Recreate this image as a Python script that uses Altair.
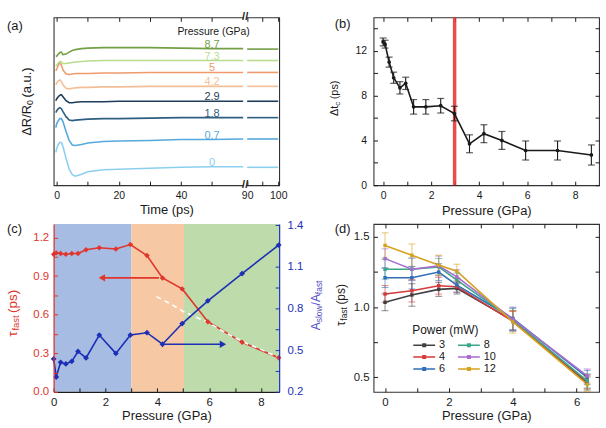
import altair as alt
import pandas as pd

FONT = "Liberation Sans"
INK = "#1a1a1a"
NB = "\u00a0"

# ---------------- panel (a): transient reflectivity traces ----------------
a_time = [-0.3, 0, 0.5, 1, 1.5, 2, 3, 4, 5, 6, 8, 10, 15, 20, 30, 40, 50, 60, 90, 100]
a_pressures = ["0", "0.7", "1.8", "2.9", "4.2", "5", "7.3", "8.7"]
a_colors = ["#8ccfee", "#56a9dc", "#2f5f80", "#1f3d5a", "#f3bf98", "#ee9a6c", "#b9dc8e", "#74a045"]
a_signal = {
    "8.7": [1.295, 1.30, 1.32, 1.335, 1.34, 1.315, 1.32, 1.34, 1.355, 1.365, 1.375, 1.38, 1.385, 1.385, 1.385, 1.38, 1.375, 1.375, 1.37, 1.37],
    "7.3": [1.20, 1.21, 1.23, 1.245, 1.24, 1.225, 1.225, 1.23, 1.235, 1.24, 1.245, 1.25, 1.255, 1.255, 1.255, 1.255, 1.255, 1.255, 1.255, 1.255],
    "5": [1.15, 1.17, 1.21, 1.235, 1.21, 1.16, 1.12, 1.115, 1.12, 1.125, 1.125, 1.125, 1.13, 1.13, 1.135, 1.135, 1.135, 1.135, 1.135, 1.135],
    "4.2": [1.01, 1.03, 1.05, 1.06, 1.045, 1.01, 0.975, 0.97, 0.975, 0.98, 0.985, 0.985, 0.99, 0.99, 0.995, 0.995, 0.995, 0.995, 0.995, 0.995],
    "2.9": [0.85, 0.87, 0.89, 0.905, 0.91, 0.89, 0.85, 0.83, 0.83, 0.835, 0.84, 0.84, 0.84, 0.845, 0.845, 0.845, 0.845, 0.845, 0.845, 0.845],
    "1.8": [0.73, 0.75, 0.77, 0.78, 0.77, 0.74, 0.69, 0.655, 0.65, 0.655, 0.66, 0.665, 0.67, 0.67, 0.675, 0.68, 0.68, 0.68, 0.68, 0.68],
    "0.7": [0.58, 0.62, 0.65, 0.67, 0.67, 0.64, 0.54, 0.45, 0.405, 0.40, 0.41, 0.425, 0.44, 0.445, 0.45, 0.46, 0.46, 0.465, 0.465, 0.465],
    "0": [0.33, 0.37, 0.41, 0.43, 0.43, 0.39, 0.27, 0.16, 0.105, 0.09, 0.11, 0.135, 0.155, 0.16, 0.17, 0.18, 0.185, 0.185, 0.18, 0.18],
}
a_break_from = 60      # last time before the axis break (ps)
a_break_to = 90        # first time after the axis break (ps)
a_break_gap = 28.7     # ps removed from the axis by the break
a_label_time = 50
a_tick_times = [0, 10, 20, 30, 40, 50, 90, 95, 100]
a_tick_labels = ["0", "", "20", "", "40", "", "90", "", "100"]

# ---------------- panel (b): delta t_c ----------------
b_pressure = [0.0, 0.08, 0.25, 0.44, 0.7, 0.94, 1.27, 1.78, 2.4, 2.97, 3.6, 4.2, 4.95, 5.94, 7.27, 8.68]
b_dtc = [12.8, 12.6, 11.0, 9.6, 8.7, 9.1, 7.0, 7.0, 7.1, 6.4, 3.7, 4.6, 4.0, 3.1, 3.1, 2.7]
b_err = [0.35, 0.35, 0.45, 0.5, 0.55, 0.55, 0.65, 0.65, 0.65, 0.65, 0.8, 0.8, 0.8, 0.85, 0.85, 0.9]
b_transition = [2.98]

# ---------------- panel (c): tau_fast and amplitude ratio ----------------
c_pressure = [0.0, 0.1, 0.27, 0.47, 0.7, 0.94, 1.25, 1.76, 2.4, 2.96, 3.6, 4.2, 4.96, 5.95, 7.27, 8.68]
c_tau = [1.07, 1.08, 1.075, 1.07, 1.075, 1.075, 1.105, 1.12, 1.11, 1.145, 1.06, 0.885, 0.80, 0.545, 0.385, 0.265]
c_ratio = [0.437, 0.307, 0.413, 0.401, 0.42, 0.491, 0.444, 0.609, 0.477, 0.609, 0.626, 0.543, 0.692, 0.856, 1.052, 1.258]
c_fit_p = [3.97, 4.5, 5.0, 5.5, 6.0, 6.5, 7.0, 7.5, 8.0, 8.68]
c_fit_v = [0.74, 0.685, 0.625, 0.58, 0.535, 0.475, 0.42, 0.37, 0.33, 0.265]
c_phase_start = [0.0, 3.0, 5.03]
c_phase_end = [3.0, 5.03, 8.7]
c_phase_color = ["#a7bce3", "#f6c8a3", "#bedcab"]
c_arrow_red = {"x_from": [4.06], "x_to": [1.86], "level": [0.886]}
c_arrow_blue = {"x_from": [4.29], "x_to": [6.53], "level": [0.543]}

# ---------------- panel (d): tau_fast vs power ----------------
d_pressure = [0, 0.84, 1.68, 2.25, 4.0, 6.33]
d_powers = ["3", "4", "6", "8", "10", "12"]
d_colors = ["#404040", "#d63a3a", "#2f6fba", "#3aa688", "#a86cd0", "#d6a21e"]
d_tau = {
    "3": [1.035, 1.087, 1.127, 1.134, 0.905, 0.46],
    "4": [1.094, 1.117, 1.153, 1.146, 0.90, 0.47],
    "6": [1.21, 1.21, 1.25, 1.157, 0.92, 0.50],
    "8": [1.27, 1.27, 1.287, 1.193, 0.91, 0.475],
    "10": [1.346, 1.27, 1.294, 1.216, 0.915, 0.51],
    "12": [1.44, 1.37, 1.30, 1.256, 0.895, 0.45],
}
d_err = {
    "3": [0.06, 0.08, 0.05, 0.04, 0.07, 0.05],
    "4": [0.06, 0.08, 0.06, 0.04, 0.07, 0.05],
    "6": [0.07, 0.08, 0.06, 0.05, 0.08, 0.05],
    "8": [0.07, 0.08, 0.06, 0.05, 0.08, 0.05],
    "10": [0.07, 0.08, 0.07, 0.05, 0.08, 0.05],
    "12": [0.09, 0.08, 0.07, 0.05, 0.08, 0.05],
}

W, H = 227, 169
RED = "#e0352c"
BLUE = "#1c2fb5"
VIOLET = "#4f4fc6"
TITLE_SIZE = 13

CHAR_W = {" ": 0.278, NB: 0.278, "(": 0.333, ")": 0.333, "/": 0.278, ".": 0.278, "a": 0.556,
          "c": 0.5, "f": 0.278, "l": 0.222, "o": 0.556, "p": 0.556, "s": 0.5, "t": 0.278,
          "u": 0.556, "w": 0.722, "A": 0.667, "R": 0.722, "Δ": 0.668, "τ": 0.45, "0": 0.556}


def text_width(s, size):
    return sum(CHAR_W.get(ch, 0.556) for ch in s) * size


def label_expr(values, labels):
    expr = "''"
    for v, lab in reversed(list(zip(values, labels))):
        expr = f"abs(datum.value - ({v})) < 1e-6 ? '{lab}' : ({expr})"
    return expr


def axis(values, labels, size, pad, title=None, orient=None, color=INK, tpad=2,
         domain=False, zindex=0):
    kw = dict(values=values, labelExpr=label_expr(values, labels), tickSize={"expr": "-4"},
              tickWidth=1, tickColor=color, labelColor=color, labelFontSize=size,
              labelFont=FONT, labelPadding=pad, labelFlush=False, labelOverlap=False,
              grid=False, domain=domain, domainColor=color, domainWidth=1.2, zindex=zindex)
    if title:
        kw.update(title=title, titleFontSize=TITLE_SIZE, titleFontWeight=400, titleFont=FONT,
                  titleColor=INK, titlePadding=tpad)
    else:
        kw.update(title=None)
    if orient:
        kw["orient"] = orient
    return alt.Axis(**kw)


def mirror_axis(values, orient):
    return alt.Axis(orient=orient, values=values, labels=False, tickSize={"expr": "-4"},
                    tickColor=INK, tickWidth=1, domain=False, grid=False, title=None)


def mirror(xscale, xvals, yscale=None, yvals=None):
    df = pd.DataFrame({"mx": [xvals[0]], "my": [yvals[0] if yvals else 0]})
    enc = dict(x=alt.X("mx:Q", scale=xscale, axis=mirror_axis(xvals, "top")))
    if yscale is not None:
        enc["y"] = alt.Y("my:Q", scale=yscale, axis=mirror_axis(yvals, "right"))
    return alt.Chart(df).mark_point(opacity=0).encode(**enc)


def seg_title(parts, x, yc, color, gap=2.5):
    """vertical (rotated) title made of normal / subscript pieces"""
    total = sum(text_width(t, s) for t, s, _ in parts) + gap
    off = -total / 2
    layers = []
    for t, s, dy in parts:
        if t.startswith(NB):
            off += gap
        layers.append(
            alt.Chart(pd.DataFrame({"lab": [t]})).mark_text(
                angle=270, align="left", baseline="middle", fontSize=s, dx=off, dy=dy,
                color=color, font=FONT).encode(text="lab:N", x=alt.value(x), y=alt.value(yc)))
        off += text_width(t, s)
    return layers


def panel_tag(tag, x, y):
    return alt.Chart(pd.DataFrame({"lab": [tag]})).mark_text(
        align="left", baseline="middle", fontSize=13, color=INK, font=FONT).encode(
        text="lab:N", x=alt.value(x), y=alt.value(y))


# ======================= (a) =======================
rows = []
for p in a_pressures:
    for t, v in zip(a_time, a_signal[p]):
        rows.append({"pressure": p, "time": t, "signal": v,
                     "segment": "early" if t <= a_break_from else "late"})
a_df = pd.DataFrame(rows)
shift_expr = f"datum.time <= {a_break_from} ? datum.time : datum.time - {a_break_gap}"
a_tick_pos = [t if t <= a_break_from else t - a_break_gap for t in a_tick_times]
ax_a = axis(a_tick_pos, a_tick_labels, 10.5, 9.5, title="Time (ps)", tpad=2)
xa_scale = alt.Scale(domain=[-1, 71.6], nice=False, zero=False)
ya_scale = alt.Scale(domain=[0, 1.69], nice=False, zero=False)
a_color = alt.Color("pressure:N", scale=alt.Scale(domain=a_pressures, range=a_colors), legend=None)

a_lines = alt.Chart(a_df).transform_calculate(tp=shift_expr).mark_line(strokeWidth=1.6).encode(
    x=alt.X("tp:Q", scale=xa_scale, axis=ax_a),
    y=alt.Y("signal:Q", scale=ya_scale, axis=None),
    color=a_color, detail="segment:N", order="time:Q")
a_labels = alt.Chart(a_df).transform_filter(f"datum.time == {a_label_time}").transform_calculate(
    tp=shift_expr).mark_text(fontSize=11, baseline="alphabetic", dy=-1, font=FONT).encode(
    x=alt.X("tp:Q", scale=xa_scale, axis=ax_a),
    y=alt.Y("signal:Q", scale=ya_scale, axis=None),
    text="pressure:N", color=a_color)
brk = pd.DataFrame({"b": [(a_break_from + a_break_to - a_break_gap) / 2]})
brk_text_layers = []
for yy in [0, H]:
    brk_text_layers.append(alt.Chart(brk).transform_calculate(b0="datum.b - 0.5", b1="datum.b + 0.5").mark_rect(
        color="white").encode(x=alt.X("b0:Q", scale=xa_scale, axis=ax_a), x2="b1:Q",
                              y=alt.value(yy - 3), y2=alt.value(yy + 3)))
    brk_text_layers.append(alt.Chart(brk).mark_text(text="//", fontSize=11, fontWeight="bold",
                                                    baseline="middle", color=INK, font=FONT).encode(
        x=alt.X("b:Q", scale=xa_scale, axis=ax_a), y=alt.value(yy)))
a_head = alt.Chart(pd.DataFrame({"lab": ["Pressure (GPa)"]})).mark_text(
    fontSize=10.5, color=INK, font=FONT, baseline="middle").encode(
    text="lab:N", x=alt.value(161), y=alt.value(15))
a_main = alt.layer(a_lines, a_labels, *brk_text_layers, a_head, panel_tag("(a)", -47, 9),
                   *seg_title([("ΔR/R", 13, 0), ("0", 9, 3.5), (NB + "(a.u.)", 13, 0)], -27, 83, INK))
panel_a = alt.layer(a_main, mirror(xa_scale, a_tick_pos)).resolve_axis(
    x="independent").properties(width=W, height=H)

# ======================= (b) =======================
b_df = pd.DataFrame({"p": b_pressure, "dtc": b_dtc, "err": b_err})
bx_vals = list(range(0, 9))
by_vals = list(range(0, 15, 2))
ax_bx = axis(bx_vals, ["0", "", "2", "", "4", "", "6", "", "8"], 10.5, 9.5,
             title="Pressure (GPa)", tpad=3)
ax_by = axis(by_vals, ["0", "", "4", "", "8", "", "12", ""], 10.5, 11)
xb_scale = alt.Scale(domain=[-0.4, 9.0], nice=False, zero=False)
yb_scale = alt.Scale(domain=[0, 15], nice=False)
bx = alt.X("p:Q", scale=xb_scale, axis=ax_bx)
b_base = alt.Chart(b_df).transform_calculate(lo="datum.dtc - datum.err", hi="datum.dtc + datum.err")
b_rule = alt.Chart(pd.DataFrame({"p": b_transition})).mark_rule(
    color="#e8383a", strokeWidth=3.5, opacity=0.9).encode(x=bx)
b_bars = b_base.mark_rule(color=INK, strokeWidth=1.1).encode(
    x=bx, y=alt.Y("lo:Q", scale=yb_scale, axis=ax_by), y2="hi:Q")
b_cap_lo = b_base.mark_tick(orient="horizontal", size=7, thickness=1.2, color=INK).encode(
    x=bx, y=alt.Y("lo:Q", scale=yb_scale, axis=ax_by))
b_cap_hi = b_base.mark_tick(orient="horizontal", size=7, thickness=1.2, color=INK).encode(
    x=bx, y=alt.Y("hi:Q", scale=yb_scale, axis=ax_by))
b_line = alt.Chart(b_df).mark_line(color=INK, strokeWidth=1.6).encode(
    x=bx, y=alt.Y("dtc:Q", scale=yb_scale, axis=ax_by))
b_pts = alt.Chart(b_df).mark_point(filled=True, color=INK, size=14, opacity=1).encode(
    x=bx, y=alt.Y("dtc:Q", scale=yb_scale, axis=ax_by))
b_main = alt.layer(b_rule, b_bars, b_cap_lo, b_cap_hi, b_line, b_pts, panel_tag("(b)", -39, 7),
                   *seg_title([("Δt", 11, 0), ("c", 8, 3), (NB + "(ps)", 11, 0)], -39, 80, INK))
panel_b = alt.layer(b_main, mirror(xb_scale, bx_vals, yb_scale, by_vals)).resolve_axis(
    x="independent", y="independent").properties(width=W, height=H)

# ======================= (c) =======================
c_df = pd.DataFrame({"p": c_pressure, "tau": c_tau, "ratio": c_ratio})
c_fit_df = pd.DataFrame({"p": c_fit_p, "v": c_fit_v})
c_phase_df = pd.DataFrame({"start": c_phase_start, "end": c_phase_end, "col": c_phase_color})
xc_scale = alt.Scale(domain=[0, 8.7], nice=False, zero=False)
ycl_scale = alt.Scale(domain=[0, 1.305], nice=False, zero=False)
ycr_scale = alt.Scale(domain=[0.2, 1.41], nice=False, zero=False)
ax_cx = axis(list(range(0, 9)), ["0", "", "2", "", "4", "", "6", "", "8"], 11.5, 9,
             title="Pressure (GPa)", tpad=1.5, domain=True, zindex=1)
cl_vals = [0, 0.15, 0.3, 0.45, 0.6, 0.75, 0.9, 1.05, 1.2]
ax_cl = axis(cl_vals, ["0.0", "", "0.3", "", "0.6", "", "0.9", "", "1.2"], 11.5, 9,
             color=RED, domain=True, zindex=1)
cr_vals = [0.2, 0.35, 0.5, 0.65, 0.8, 0.95, 1.1, 1.25, 1.4]
ax_cr = axis(cr_vals, ["0.2", "", "0.5", "", "0.8", "", "1.1", "", "1.4"], 11.5, 12,
             orient="right", color=BLUE, domain=True, zindex=1)
cx = lambda f: alt.X(f, scale=xc_scale, axis=ax_cx)
cyl = lambda f: alt.Y(f, scale=ycl_scale, axis=ax_cl)
cyr = lambda f: alt.Y(f, scale=ycr_scale, axis=ax_cr)

c_bg = alt.Chart(c_phase_df).mark_rect().encode(
    x=cx("start:Q"), x2="end:Q", color=alt.Color("col:N", scale=None, legend=None))
c_red_line = alt.Chart(c_df).mark_line(color=RED, strokeWidth=1.6).encode(x=cx("p:Q"), y=cyl("tau:Q"))
c_fit = alt.Chart(c_fit_df).mark_line(color="white", strokeWidth=1.6, strokeDash=[5, 4]).encode(
    x=cx("p:Q"), y=cyl("v:Q"))
c_red_pts = alt.Chart(c_df).mark_point(shape="diamond", filled=True, color=RED, size=30, opacity=1).encode(
    x=cx("p:Q"), y=cyl("tau:Q"))
ar = pd.DataFrame(c_arrow_red)
c_ar_line = alt.Chart(ar).mark_rule(color=RED, strokeWidth=1.6).encode(
    x=cx("x_from:Q"), x2="x_to:Q", y=cyl("level:Q"))
c_ar_head = alt.Chart(ar).mark_point(shape="triangle-left", filled=True, color=RED, size=55, opacity=1).encode(
    x=cx("x_to:Q"), y=cyl("level:Q"))
c_left = alt.layer(c_bg, c_red_line, c_fit, c_red_pts, c_ar_line, c_ar_head)

c_blue_line = alt.Chart(c_df).mark_line(color=BLUE, strokeWidth=1.6).encode(x=cx("p:Q"), y=cyr("ratio:Q"))
c_blue_pts = alt.Chart(c_df).mark_point(shape="diamond", filled=True, color=BLUE, size=34, opacity=1).encode(
    x=cx("p:Q"), y=cyr("ratio:Q"))
ab = pd.DataFrame(c_arrow_blue)
c_ab_line = alt.Chart(ab).mark_rule(color=BLUE, strokeWidth=1.6).encode(
    x=cx("x_from:Q"), x2="x_to:Q", y=cyr("level:Q"))
c_ab_head = alt.Chart(ab).mark_point(shape="triangle-right", filled=True, color=BLUE, size=55, opacity=1).encode(
    x=cx("x_to:Q"), y=cyr("level:Q"))
c_right = alt.layer(c_blue_line, c_blue_pts, c_ab_line, c_ab_head)

panel_c = alt.layer(
    c_left, c_right, panel_tag("(c)", -47, 5),
    *seg_title([("τ", 13.5, 0), ("fast", 9.5, 3.5), (NB + "(ps)", 13.5, 0)], -41, 88, RED),
    *seg_title([("A", 12, 0), ("slow", 8.5, 3), ("/A", 12, 0), ("fast", 8.5, 3)], W + 37, 82, VIOLET, gap=0),
).resolve_scale(y="independent").properties(
    width=W, height=H, view=alt.ViewBackground(stroke="transparent"))

# ======================= (d) =======================
rows = []
for pw in d_powers:
    for p, v, e in zip(d_pressure, d_tau[pw], d_err[pw]):
        rows.append({"power": pw, "p": p, "tau": v, "lo": v - e, "hi": v + e})
d_df = pd.DataFrame(rows)
xd_scale = alt.Scale(domain=[-0.36, 6.7], nice=False, zero=False)
yd_scale = alt.Scale(domain=[0.397, 1.593], nice=False, zero=False)
dx_vals = list(range(0, 7))
dy_vals = [0.5, 0.75, 1.0, 1.25, 1.5]
ax_dx = axis(dx_vals, ["0", "", "2", "", "4", "", "6"], 11.5, 9,
             title="Pressure (GPa)", tpad=1.5)
ax_dy = axis(dy_vals, ["0.5", "", "1.0", "", "1.5"], 11.5, 8.5)
dx_ = alt.X("p:Q", scale=xd_scale, axis=ax_dx)
d_cscale = alt.Scale(domain=d_powers, range=d_colors)
legend_d = alt.Legend(
    title="Power (mW)", orient="none", legendX=39, legendY=102, direction="vertical", columns=2,
    symbolType="M-1,0L3.4,0M0.95,-0.25L1.45,-0.25L1.45,0.25L0.95,0.25Z", symbolSize=100,
    symbolStrokeWidth=1.5, labelFontSize=11, titleFontSize=12, titleFontWeight=400,
    titlePadding=2, rowPadding=1, columnPadding=9, labelOffset=15, padding=0,
    labelFont=FONT, titleFont=FONT, labelColor=INK, titleColor=INK, titleAnchor="start")
d_bars = alt.Chart(d_df).mark_rule(strokeWidth=1.1, opacity=0.55).encode(
    x=dx_, y=alt.Y("lo:Q", scale=yd_scale, axis=ax_dy), y2="hi:Q",
    color=alt.Color("power:N", scale=d_cscale, legend=None))
d_cap_lo = alt.Chart(d_df).mark_tick(orient="horizontal", size=7, thickness=1.1, opacity=0.55).encode(
    x=dx_, y=alt.Y("lo:Q", scale=yd_scale, axis=ax_dy),
    color=alt.Color("power:N", scale=d_cscale, legend=None))
d_cap_hi = alt.Chart(d_df).mark_tick(orient="horizontal", size=7, thickness=1.1, opacity=0.55).encode(
    x=dx_, y=alt.Y("hi:Q", scale=yd_scale, axis=ax_dy),
    color=alt.Color("power:N", scale=d_cscale, legend=None))
d_lines = alt.Chart(d_df).mark_line(strokeWidth=1.6).encode(
    x=dx_, y=alt.Y("tau:Q", scale=yd_scale, axis=ax_dy),
    color=alt.Color("power:N", scale=d_cscale, legend=legend_d))
d_pts = alt.Chart(d_df).mark_point(filled=True, size=12, opacity=1, shape="square").encode(
    x=dx_, y=alt.Y("tau:Q", scale=yd_scale, axis=ax_dy),
    color=alt.Color("power:N", scale=d_cscale, legend=None))
d_main = alt.layer(d_lines, d_bars, d_cap_lo, d_cap_hi, d_pts, panel_tag("(d)", -39, 5),
                   *seg_title([("τ", 12, 0), ("fast", 8.5, 3), (NB + "(ps)", 12, 0)], -33, 80, INK))
panel_d = alt.layer(d_main, mirror(xd_scale, dx_vals, yd_scale, dy_vals)).resolve_axis(
    x="independent", y="independent").properties(width=W, height=H)

chart = alt.concat(panel_a, panel_b, panel_c, panel_d, columns=2,
                   spacing={"row": 39, "column": 95}, bounds="flush").resolve_scale(
    color="independent").properties(
    padding={"left": 5, "right": 5, "top": 9, "bottom": 5}
).configure(font=FONT).configure_view(stroke="#333333", strokeWidth=1.1).configure_axis(
    titleFontWeight=400).configure_legend(titleFontWeight=400)

chart.save("out.html", embed_options={"renderer": "svg", "actions": False})
